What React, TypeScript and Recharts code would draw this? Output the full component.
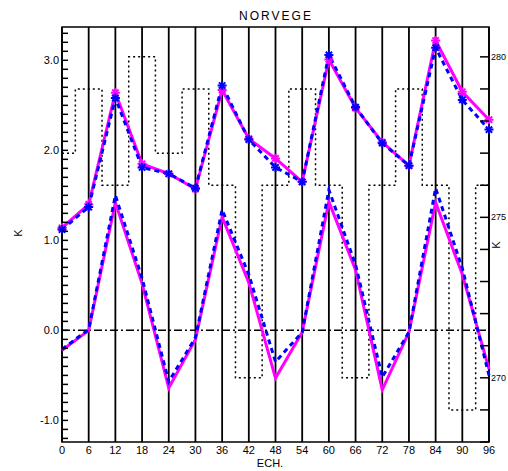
import { ComposedChart, Line, XAxis, YAxis, CartesianGrid, ReferenceLine, ReferenceArea, Customized } from 'recharts';

const ech = [0, 6, 12, 18, 24, 30, 36, 42, 48, 54, 60, 66, 72, 78, 84, 90, 96];
const upperMagenta = [1.14, 1.4, 2.64, 1.85, 1.74, 1.57, 2.67, 2.13, 1.91, 1.65, 3.01, 2.47, 2.09, 1.83, 3.22, 2.65, 2.34];
const upperBlue = [1.12, 1.37, 2.58, 1.81, 1.74, 1.58, 2.72, 2.12, 1.81, 1.65, 3.06, 2.48, 2.08, 1.83, 3.14, 2.56, 2.23];
const lowerMagenta = [-0.22, 0.0, 1.42, 0.52, -0.64, -0.1, 1.26, 0.53, -0.53, -0.02, 1.43, 0.67, -0.66, -0.02, 1.42, 0.62, -0.43];
const lowerBlue = [-0.21, 0.01, 1.5, 0.58, -0.57, -0.08, 1.34, 0.62, -0.35, -0.02, 1.56, 0.73, -0.52, -0.02, 1.58, 0.69, -0.5];
const stepValues = [277, 279, 276, 280, 277, 279, 276, 270, 276, 279, 276, 270, 276, 279, 276, 269, 276];

const leftLabels = [-1, 0, 1, 2, 3];
const rightLabels = [270, 275, 280];
const leftTicks = Array.from({ length: 46 }, (_, i) => Math.round((-1.2 + i * 0.1) * 10) / 10);
const rightTicks = [268, 269, 270, 271, 272, 273, 274, 275, 276, 277, 278, 279, 280];

const data = ech.map((e, i) => ({
  ech: e,
  um: upperMagenta[i],
  ub: upperBlue[i],
  lm: lowerMagenta[i],
  lb: lowerBlue[i],
  st: stepValues[i],
}));

const font = "'Liberation Sans', Arial, sans-serif";

function star(color: string) {
  return (props: any) => {
    const { cx, cy, index } = props;
    if (cx == null || cy == null) return <g key={`${color}-${index}`} />;
    const r = 4.5;
    const d = r * 0.7;
    return (
      <g key={`${color}-${index}`} stroke={color} strokeWidth={2}>
        <line x1={cx - r} y1={cy} x2={cx + r} y2={cy} />
        <line x1={cx} y1={cy - r} x2={cx} y2={cy + r} />
        <line x1={cx - d} y1={cy - d} x2={cx + d} y2={cy + d} />
        <line x1={cx - d} y1={cy + d} x2={cx + d} y2={cy - d} />
      </g>
    );
  };
}

function LeftTick(props: any) {
  const { x, y, payload } = props;
  const v = payload.value;
  const major = leftLabels.some((l) => Math.abs(l - v) < 1e-6);
  return (
    <g>
      <line x1={x} x2={x + 6} y1={y} y2={y} stroke="#000" strokeWidth={1.5} />
      {major && (
        <text x={x - 3} y={y + 4} textAnchor="end" fontSize={11} fontFamily={font} fill="#000">
          {v.toFixed(1)}
        </text>
      )}
    </g>
  );
}

function RightTick(props: any) {
  const { x, y, payload } = props;
  const v = payload.value;
  return (
    <g>
      <line x1={x - 9} x2={x} y1={y} y2={y} stroke="#000" strokeWidth={1.5} />
      {rightLabels.includes(v) && (
        <text x={x + 2} y={y + 3} textAnchor="start" fontSize={9} fontFamily={font} fill="#000">
          {v}
        </text>
      )}
    </g>
  );
}

function Texts() {
  return (
    <g fontFamily={font} fill="#000">
      <text x={276} y={20} textAnchor="middle" fontSize={12} letterSpacing={2}>NORVEGE</text>
      <text x={270} y={467} textAnchor="middle" fontSize={11}>ECH.</text>
      <text x={22} y={233} textAnchor="middle" fontSize={11} transform="rotate(-90 22 233)">K</text>
      <text x={500} y={245} textAnchor="middle" fontSize={11} transform="rotate(-90 500 245)">K</text>
    </g>
  );
}

export default function App() {
  return (
    <div style={{ position: 'absolute', left: 0, top: 0, background: '#fff' }}>
      <ComposedChart width={508} height={471} data={data} margin={{ top: 27, right: 0, bottom: 0, left: 16 }}>
        <CartesianGrid horizontal={false} stroke="#000" strokeWidth={1.8} />
        <XAxis
          dataKey="ech"
          type="number"
          domain={[0, 96]}
          ticks={ech}
          tickLine={false}
          axisLine={false}
          tickSize={0}
          tickMargin={4}
          height={29}
          tick={{ fontSize: 11, fontFamily: font, fill: '#000' }}
        />
        <YAxis
          type="number"
          domain={[-1.24, 3.37]}
          allowDataOverflow
          ticks={leftTicks}
          interval={0}
          width={46}
          tickLine={false}
          axisLine={false}
          tickSize={0}
          tickMargin={0}
          tick={<LeftTick />}
        />
        <YAxis
          yAxisId="right"
          orientation="right"
          type="number"
          domain={[268, 280.93]}
          allowDataOverflow
          ticks={rightTicks}
          interval={0}
          width={19}
          tickLine={false}
          axisLine={false}
          tickSize={0}
          tickMargin={0}
          tick={<RightTick />}
        />
        <ReferenceLine y={0} stroke="#000" strokeWidth={1.5} strokeDasharray="8 3 2 3" />
        <Line
          yAxisId="right"
          type="step"
          dataKey="st"
          stroke="#000"
          strokeWidth={1.5}
          strokeDasharray="2 3"
          dot={false}
          isAnimationActive={false}
        />
        <Line type="linear" dataKey="lm" stroke="#ff00ff" strokeWidth={3} dot={false} isAnimationActive={false} />
        <Line type="linear" dataKey="lb" stroke="#0000ff" strokeWidth={3} strokeDasharray="5 4" dot={false} isAnimationActive={false} />
        <Line type="linear" dataKey="um" stroke="#ff00ff" strokeWidth={3} dot={star('#ff00ff')} isAnimationActive={false} />
        <Line type="linear" dataKey="ub" stroke="#0000ff" strokeWidth={3} strokeDasharray="5 4" dot={star('#0000ff')} isAnimationActive={false} />
        <ReferenceArea x1={0} x2={96} y1={-1.24} y2={3.37} fill="none" stroke="#000" strokeWidth={1.5} />
        <Customized component={Texts} />
      </ComposedChart>
    </div>
  );
}
